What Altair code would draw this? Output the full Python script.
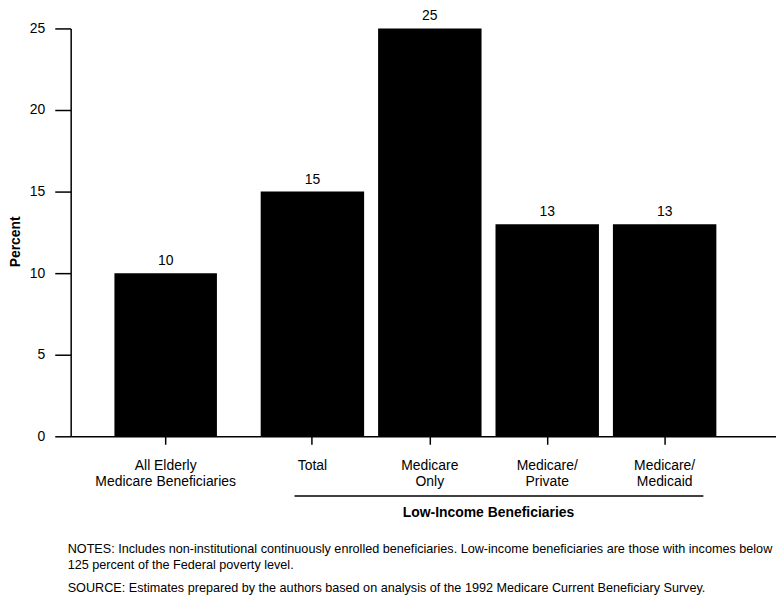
import altair as alt
import pandas as pd

# ---- data ----
all_labels = ["All Elderly\nMedicare Beneficiaries"]
all_values = [10]
low_labels = ["Total", "Medicare\nOnly", "Medicare/\nPrivate", "Medicare/\nMedicaid"]
low_values = [15, 25, 13, 13]
y_ticks = [0, 5, 10, 15, 20, 25]
group_title = "Low-Income Beneficiaries"
notes_lines = [
    "NOTES: Includes non-institutional continuously enrolled beneficiaries. Low-income beneficiaries are those with incomes below",
    "125 percent of the Federal poverty level.",
]
source_line = "SOURCE: Estimates prepared by the authors based on analysis of the 1992 Medicare Current Beneficiary Survey."

FONT = "Liberation Sans"
H = 410
NOTE_SIZE = 12.7

left_df = pd.DataFrame({"cat": all_labels, "value": all_values})
right_df = pd.DataFrame({"cat": low_labels, "value": low_values})

yscale = alt.Scale(domain=[0, 25], nice=False)
label_expr = "split(datum.label, '\\n')"


def x_axis():
    return alt.Axis(
        title=None, labelAngle=0, labelExpr=label_expr, labelFont=FONT,
        labelFontSize=14, labelColor="black", labelLineHeight=16,
        labelPadding=14, tickSize=8, tickColor="black", tickWidth=1.5,
        domainColor="black", domainWidth=1.5, labelOverlap=False,
    )


y_axis = alt.Axis(
    values=y_ticks, title="Percent", titleFont=FONT, titleFontSize=14,
    titleFontWeight="bold", titleColor="black", titlePadding=7, titleY=214,
    labelFont=FONT, labelFontSize=14, labelColor="black", labelPadding=10,
    tickSize=16, tickColor="black", tickWidth=1.5, domainColor="black",
    domainWidth=1.5, grid=False,
)

# ---- left panel ----
lbase = alt.Chart(left_df)
lx = alt.X("cat:N", sort=all_labels,
           scale=alt.Scale(paddingInner=0, paddingOuter=0.427), axis=x_axis())
left_bars = lbase.mark_bar(color="black").encode(
    x=lx, y=alt.Y("value:Q", scale=yscale, axis=y_axis))
left_text = lbase.mark_text(font=FONT, fontSize=14, color="black", dy=-12,
                            baseline="middle").encode(
    x=alt.X("cat:N", sort=all_labels), y=alt.Y("value:Q"), text="value:Q")
notes = alt.Chart(alt.Data(values=[{"t": notes_lines}])).mark_text(
    font=FONT, fontSize=NOTE_SIZE, color="black", align="left",
    baseline="alphabetic", lineHeight=16).encode(
    text="t:N", x=alt.value(-3), y=alt.value(527))
source = alt.Chart(alt.Data(values=[{"t": source_line}])).mark_text(
    font=FONT, fontSize=NOTE_SIZE, color="black", align="left",
    baseline="alphabetic").encode(
    text="t:N", x=alt.value(-3), y=alt.value(567))
left = alt.layer(left_bars, left_text, notes, source).properties(width=191, height=H)

# ---- right panel ----
rbase = alt.Chart(right_df)
rx = alt.X("cat:N", sort=low_labels,
           scale=alt.Scale(paddingInner=0.119, paddingOuter=0.254, align=0),
           axis=x_axis())
right_bars = rbase.mark_bar(color="black").encode(
    x=rx, y=alt.Y("value:Q", scale=yscale, axis=None))
right_text = rbase.mark_text(font=FONT, fontSize=14, color="black", dy=-12,
                             baseline="middle").encode(
    x=alt.X("cat:N", sort=low_labels), y=alt.Y("value:Q"), text="value:Q")
bracket = alt.Chart(alt.Data(values=[{"t": group_title}])).mark_rule(
    color="black", strokeWidth=1.5).encode(
    x=alt.value(34), x2=alt.value(445), y=alt.value(470))
gtitle = alt.Chart(alt.Data(values=[{"t": group_title}])).mark_text(
    font=FONT, fontSize=14, fontWeight="bold", color="black",
    baseline="middle").encode(text="t:N", x=alt.value(229), y=alt.value(487))
right = alt.layer(right_bars, right_text, bracket, gtitle).properties(width=518, height=H)

chart = alt.hconcat(left, right, spacing=0, bounds="flush").properties(
    padding={"left": 0, "top": 0, "right": 0, "bottom": 0},
    background="white",
).configure_view(stroke=None, strokeWidth=0)

chart.save("out.html", embed_options={"renderer": "svg", "actions": False})
